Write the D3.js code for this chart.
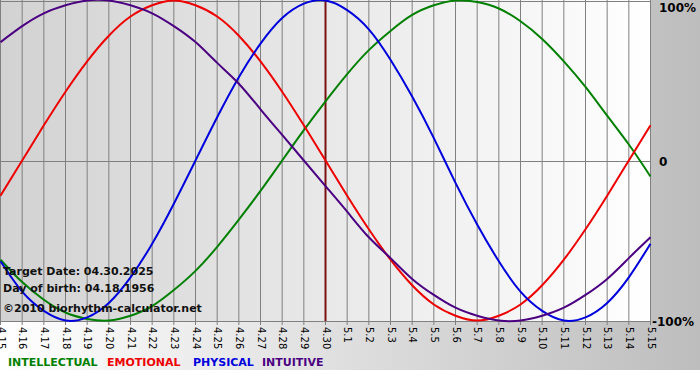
<!DOCTYPE html>
<html><head><meta charset="utf-8">
<script src="https://cdn.jsdelivr.net/npm/d3@7"></script>
<style>html,body{margin:0;padding:0;background:#fff;}svg{display:block;}</style>
</head><body>
<svg id="c" width="700" height="380"></svg>
<script>
const days = ["4.15","4.16","4.17","4.18","4.19","4.20","4.21","4.22","4.23","4.24","4.25","4.26","4.27","4.28","4.29","4.30",
  "5.1","5.2","5.3","5.4","5.5","5.6","5.7","5.8","5.9","5.10","5.11","5.12","5.13","5.14","5.15"];
const physical = [-0.63,-0.82,-0.94,-1.00,-0.98,-0.89,-0.73,-0.52,-0.27,0.00,0.27,0.52,0.73,0.89,0.98,1.00,
  0.94,0.82,0.63,0.40,0.14,-0.14,-0.40,-0.63,-0.82,-0.94,-1.00,-0.98,-0.89,-0.73,-0.52];
const emotional = [-0.22,0.00,0.22,0.43,0.62,0.78,0.90,0.97,1.00,0.97,0.90,0.78,0.62,0.43,0.22,0.00,
  -0.22,-0.43,-0.62,-0.78,-0.90,-0.97,-1.00,-0.97,-0.90,-0.78,-0.62,-0.43,-0.22,0.00,0.22];
const intellectual = [-0.62,-0.76,-0.87,-0.95,-0.99,-1.00,-0.97,-0.91,-0.81,-0.69,-0.54,-0.37,-0.19,0.00,0.19,0.37,
  0.54,0.69,0.81,0.91,0.97,1.00,0.99,0.95,0.87,0.76,0.62,0.46,0.28,0.10,-0.10];
const intuitive = [0.74,0.84,0.92,0.97,1.00,1.00,0.97,0.92,0.84,0.74,0.61,0.48,0.32,0.16,0.00,-0.16,
  -0.32,-0.48,-0.61,-0.74,-0.84,-0.92,-0.97,-1.00,-1.00,-0.97,-0.92,-0.84,-0.74,-0.61,-0.48];
const yTicks = [1, 0, -1];
const yTickLabels = ["100%", "0", "-100%"];
const targetDay = "4.30";
const infoLines = ["Target Date: 04.30.2025", "Day of birth: 04.18.1956", "\u00a92010 biorhythm-calculator.net"];
const legendNames = ["INTELLECTUAL", "EMOTIONAL", "PHYSICAL", "INTUITIVE"];

const svg = d3.select("#c");
const W = 651, H = 321;
const defs = svg.append("defs");
const g1 = defs.append("linearGradient").attr("id","bg").attr("x1","0").attr("x2","1").attr("y1","0").attr("y2","0");
g1.append("stop").attr("offset","0").attr("stop-color","#ffffff");
g1.append("stop").attr("offset","1").attr("stop-color","#bdbdbd");
const g2 = defs.append("linearGradient").attr("id","pbg").attr("x1","0").attr("x2","1").attr("y1","0").attr("y2","0");
g2.append("stop").attr("offset","0").attr("stop-color","#d2d2d2");
g2.append("stop").attr("offset","1").attr("stop-color","#ffffff");

svg.append("rect").attr("x",0).attr("y",0).attr("width",700).attr("height",370).attr("fill","url(#bg)");
svg.append("rect").attr("x",0).attr("y",0).attr("width",W).attr("height",H).attr("fill","url(#pbg)");

const x = d3.scalePoint().domain(days).range([0.5, W - 0.5]);
const y = d3.scaleLinear().domain([-1, 1]).range([H - 0.5, 0.5]);

// vertical grid
svg.append("g").selectAll("line").data(days).join("line")
  .attr("x1", d => x(d)).attr("x2", d => x(d)).attr("y1", 0).attr("y2", H + 4)
  .attr("stroke", "#808080").attr("stroke-width", 1);
// horizontal lines
svg.append("g").selectAll("line").data(yTicks).join("line")
  .attr("x1", 0).attr("x2", W).attr("y1", d => Math.round(y(d)) + 0.5).attr("y2", d => Math.round(y(d)) + 0.5)
  .attr("stroke", "#808080").attr("stroke-width", 1);

// x axis labels
const xAxis = d3.axisBottom(x).tickSize(0).tickPadding(0);
const ax = svg.append("g").attr("transform", `translate(0,${H + 4})`).call(xAxis);
ax.select(".domain").remove();
ax.selectAll("text")
  .attr("transform", "rotate(90)")
  .attr("x", 2).attr("y", 0).attr("dy", "0.35em")
  .style("text-anchor", "start")
  .attr("font-family", "DejaVu Sans, Verdana, sans-serif").attr("font-size", 10).attr("fill", "#000");

// y labels
const yLab = [8, 166, 326];
svg.append("g").selectAll("text").data(yTicks).join("text")
  .attr("x", (d,i) => i === 2 ? 652 : 659)
  .attr("y", (d,i) => Math.round(y(d)) + [11, 5, 5][i])
  .text((d,i) => yTickLabels[i])
  .attr("font-family", "DejaVu Sans, Verdana, sans-serif").attr("font-weight", "bold").attr("font-size", 12).attr("fill", "#000");

// target line
svg.append("line").attr("x1", x(targetDay)).attr("x2", x(targetDay)).attr("y1", 0).attr("y2", H)
  .attr("stroke", "#7a1010").attr("stroke-width", 2);

const series = [
  {name: legendNames[0], vals: intellectual, color: "#008000"},
  {name: legendNames[1], vals: emotional, color: "#ee0000"},
  {name: legendNames[2], vals: physical, color: "#0000dd"},
  {name: legendNames[3], vals: intuitive, color: "#4b0082"}
];
const line = d3.line().x((d,i) => x(days[i])).y(d => y(d)).curve(d3.curveNatural);
svg.append("g").selectAll("path").data(series).join("path")
  .attr("d", d => line(d.vals)).attr("fill", "none").attr("stroke", d => d.color).attr("stroke-width", 2);

// info text
svg.append("g").selectAll("text").data(infoLines).join("text")
  .attr("x", 3).attr("y", (d,i) => [275, 292, 312][i]).text(d => d)
  .attr("font-family", "DejaVu Sans, Verdana, sans-serif").attr("font-weight", "bold").attr("font-size", 11).attr("fill", "#111");

// legend
const lx = [8, 107, 193, 262];
svg.append("g").selectAll("text").data(series).join("text")
  .attr("x", (d,i) => lx[i]).attr("y", 366).text(d => d.name)
  .attr("fill", d => d.color)
  .attr("font-family", "DejaVu Sans, Verdana, sans-serif").attr("font-weight", "bold").attr("font-size", 11);
</script>
</body></html>
